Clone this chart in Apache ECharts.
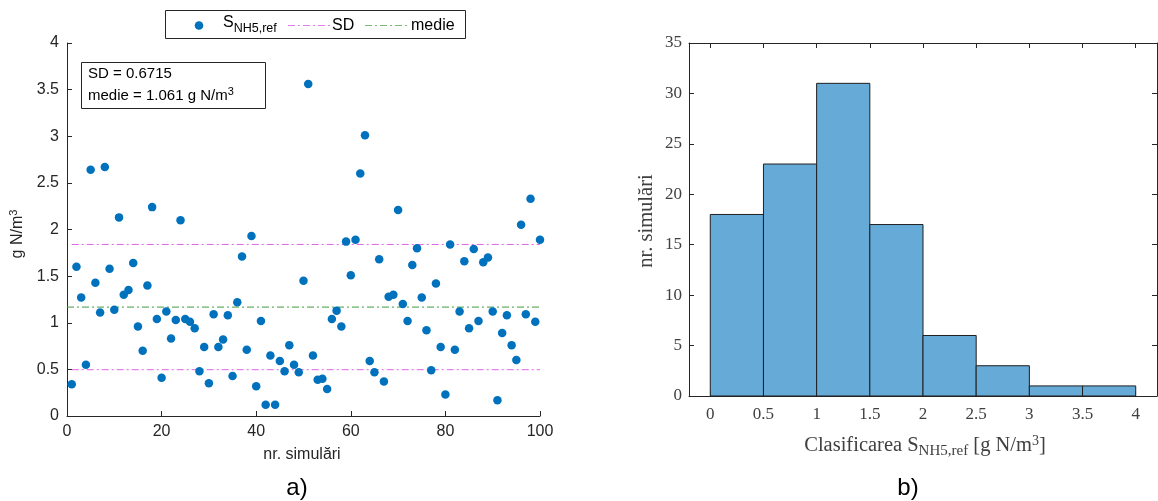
<!DOCTYPE html>
<html><head><meta charset="utf-8">
<script src="https://cdn.jsdelivr.net/npm/echarts@6/dist/echarts.min.js"></script>
<style>html,body{margin:0;padding:0;background:#fff}#c{width:1158px;height:501px}</style>
</head><body><div id="c"></div>
<script>
// ---- data ----
const sValues = [
  0.34, 1.60, 1.27, 0.55, 2.64, 1.43, 1.11, 2.67, 1.58, 1.14,
  2.13, 1.30, 1.35, 1.64, 0.96, 0.70, 1.40, 2.24, 1.04, 0.41,
  1.12, 0.83, 1.03, 2.10, 1.04, 1.01, 0.94, 0.48, 0.74, 0.35,
  1.09, 0.74, 0.82, 1.08, 0.43, 1.22, 1.71, 0.71, 1.93, 0.32,
  1.02, 0.12, 0.65, 0.12, 0.59, 0.48, 0.76, 0.55, 0.47, 1.45,
  3.56, 0.65, 0.39, 0.40, 0.29, 1.04, 1.13, 0.96, 1.87, 1.51,
  1.89, 2.60, 3.01, 0.59, 0.47, 1.68, 0.37, 1.28, 1.30, 2.21,
  1.20, 1.02, 1.62, 1.80, 1.27, 0.92, 0.49, 1.42, 0.74, 0.23,
  1.84, 0.71, 1.12, 1.66, 0.94, 1.79, 1.02, 1.65, 1.70, 1.12,
  0.17, 0.89, 1.08, 0.76, 0.60, 2.05, 1.09, 2.33, 1.01, 1.89
];
const meanLineValue = 1.168;
const sdValue = 0.6715;
const meanStart = 0, sdStart = 1, lineEnd = 100;
const binEdges = [0, 0.5, 1, 1.5, 2, 2.5, 3, 3.5, 4];
const binCounts = [18, 23, 31, 17, 6, 3, 1, 1];
const histTicks = [0, 0.5, 1, 1.5, 2, 2.5, 3, 3.5, 4];

// ---- build ----
const scatterData = sValues.map((v, i) => [i + 1, v]);
const sdUpper = [[sdStart, meanLineValue + sdValue], [lineEnd, meanLineValue + sdValue]];
const sdLower = [[sdStart, meanLineValue - sdValue], [lineEnd, meanLineValue - sdValue]];
const meanLine = [[meanStart, meanLineValue], [lineEnd, meanLineValue]];
const histData = binCounts.map((c, i) => [binEdges[i], binEdges[i + 1], c]);

const axisCol = '#262626';
const sans = 'Liberation Sans, Arial, sans-serif';
const serif = 'Liberation Serif, DejaVu Serif, serif';
const magenta = '#E066E6';
const green = '#3F9B3F';
const dashDot = [7, 3, 2, 3];

const chart = echarts.init(document.getElementById('c'));
chart.setOption({
  animation: false,
  backgroundColor: '#fff',
  grid: [
    {left: 67, top: 43, width: 473, height: 373},
    {left: 689, top: 43, width: 468, height: 353}
  ],
  xAxis: [
    {gridIndex: 0, type: 'value', min: 0, max: 100, interval: 20,
     axisLine: {lineStyle: {color: axisCol}}, splitLine: {show: false},
     axisTick: {inside: true, length: 5, lineStyle: {color: axisCol}},
     axisLabel: {fontFamily: sans, fontSize: 16, color: axisCol, margin: 8}},
    {gridIndex: 1, type: 'value', min: -0.2, max: 4.2,
     axisLine: {onZero: false, lineStyle: {color: axisCol}}, splitLine: {show: false},
     axisTick: {inside: true, length: 5, customValues: histTicks, lineStyle: {color: axisCol}},
     axisLabel: {customValues: histTicks, fontFamily: serif, fontSize: 17, color: '#404040', margin: 10}},
    {gridIndex: 1, type: 'value', min: -0.2, max: 4.2, position: 'top',
     axisLine: {onZero: false, lineStyle: {color: axisCol}}, splitLine: {show: false},
     axisTick: {inside: true, length: 5, customValues: histTicks, lineStyle: {color: axisCol}},
     axisLabel: {show: false}}
  ],
  yAxis: [
    {gridIndex: 0, type: 'value', min: 0, max: 4, interval: 0.5,
     axisLine: {show: true, lineStyle: {color: axisCol}}, splitLine: {show: false},
     axisTick: {show: true, inside: true, length: 5, lineStyle: {color: axisCol}},
     axisLabel: {fontFamily: sans, fontSize: 16, color: axisCol, margin: 8}},
    {gridIndex: 1, type: 'value', min: 0, max: 35, interval: 5,
     axisLine: {show: true, onZero: false, lineStyle: {color: axisCol}}, splitLine: {show: false},
     axisTick: {show: true, inside: true, length: 5, lineStyle: {color: axisCol}},
     axisLabel: {fontFamily: serif, fontSize: 17, color: '#404040', margin: 7}},
    {gridIndex: 1, type: 'value', min: 0, max: 35, interval: 5, position: 'right',
     axisLine: {show: true, onZero: false, lineStyle: {color: axisCol}}, splitLine: {show: false},
     axisTick: {show: true, inside: true, length: 5, lineStyle: {color: axisCol}},
     axisLabel: {show: false}}
  ],
  series: [
    {name: 'S', type: 'scatter', xAxisIndex: 0, yAxisIndex: 0, data: scatterData,
     symbolSize: 8.5, itemStyle: {color: '#0072BD', opacity: 1}, z: 5},
    {name: 'SD', type: 'line', xAxisIndex: 0, yAxisIndex: 0, data: sdUpper, symbol: 'none',
     lineStyle: {color: magenta, width: 1, type: dashDot}},
    {name: 'SD', type: 'line', xAxisIndex: 0, yAxisIndex: 0, data: sdLower, symbol: 'none',
     lineStyle: {color: magenta, width: 1, type: dashDot}},
    {name: 'medie', type: 'line', xAxisIndex: 0, yAxisIndex: 0, data: meanLine, symbol: 'none',
     lineStyle: {color: green, width: 1, type: dashDot}},
    {name: 'hist', type: 'custom', xAxisIndex: 1, yAxisIndex: 1, data: histData,
     encode: {x: [0, 1], y: 2},
     renderItem: function (params, api) {
       const p0 = api.coord([api.value(0), 0]);
       const p1 = api.coord([api.value(1), api.value(2)]);
       return {type: 'rect',
         shape: {x: p0[0], y: p1[1], width: p1[0] - p0[0], height: p0[1] - p1[1]},
         style: {fill: '#66AAD7', stroke: '#1f1f1f', lineWidth: 1}};
     }}
  ],
  graphic: [
    // legend
    {type: 'rect', shape: {x: 165.5, y: 10.5, width: 300, height: 28},
     style: {fill: '#fff', stroke: axisCol, lineWidth: 1}, z: 10},
    {type: 'circle', shape: {cx: 199, cy: 25.5, r: 4.3}, style: {fill: '#0072BD'}, z: 11},
    {type: 'text', x: 223, y: 23, z: 11,
     style: {text: '{s|S}{sub|NH5,ref}', verticalAlign: 'middle',
       rich: {s: {fontFamily: sans, fontSize: 16, fill: '#000'},
              sub: {fontFamily: sans, fontSize: 12.5, fill: '#000', padding: [11, 0, 0, 0]}}}},
    {type: 'line', shape: {x1: 288, y1: 25.5, x2: 330, y2: 25.5},
     style: {stroke: '#E27CE8', lineWidth: 1, lineDash: dashDot}, z: 11},
    {type: 'text', x: 332, y: 25.5, z: 11,
     style: {text: 'SD', fontFamily: sans, fontSize: 16, fill: '#000', verticalAlign: 'middle'}},
    {type: 'line', shape: {x1: 365, y1: 25.5, x2: 408, y2: 25.5},
     style: {stroke: '#7DBB7D', lineWidth: 1, lineDash: dashDot}, z: 11},
    {type: 'text', x: 411, y: 25.5, z: 11,
     style: {text: 'medie', fontFamily: sans, fontSize: 16, fill: '#000', verticalAlign: 'middle'}},
    // annotation
    {type: 'rect', shape: {x: 81.5, y: 62.5, width: 184, height: 46},
     style: {fill: '#fff', stroke: axisCol, lineWidth: 1}, z: 10},
    {type: 'text', left: 88, top: 66, z: 11,
     style: {text: 'SD = 0.6715', fontFamily: sans, fontSize: 15, fill: '#000'}},
    {type: 'text', left: 88, top: 86, z: 11,
     style: {text: '{t|medie = 1.061 g N/m}{sup|3}', fontFamily: sans, fontSize: 15, fill: '#000',
       rich: {t: {fontFamily: sans, fontSize: 15, fill: '#000'},
              sup: {fontFamily: sans, fontSize: 11, fill: '#000', padding: [0, 0, 8, 0]}}}},
    // axis titles & panel labels
    {type: 'text', x: 18, y: 234, rotation: Math.PI / 2, z: 11,
     style: {text: '{t|g N/m}{sup|3}', fontFamily: sans, fontSize: 16, fill: axisCol,
       align: 'center', verticalAlign: 'middle',
       rich: {t: {fontFamily: sans, fontSize: 16, fill: axisCol},
              sup: {fontFamily: sans, fontSize: 11, fill: axisCol, padding: [0, 0, 8, 0]}}}},
    {type: 'text', x: 302, y: 455, z: 11,
     style: {text: 'nr. simulări', fontFamily: sans, fontSize: 16, fill: axisCol,
       align: 'center', verticalAlign: 'middle'}},
    {type: 'text', x: 297, y: 488, z: 11,
     style: {text: 'a)', fontFamily: sans, fontSize: 24, fill: '#000',
       align: 'center', verticalAlign: 'middle'}},
    {type: 'text', x: 647, y: 221, rotation: Math.PI / 2, z: 11,
     style: {text: 'nr. simulări', fontFamily: serif, fontSize: 20.5, fill: '#404040',
       align: 'center', verticalAlign: 'middle'}},
    {type: 'text', x: 925, y: 446, z: 11,
     style: {text: '{t|Clasificarea S}{sub|NH5,ref}{t| [g N/m}{sup|3}{t|]}', fontFamily: serif, fontSize: 20.5, fill: '#404040',
       align: 'center', verticalAlign: 'middle',
       rich: {t: {fontFamily: serif, fontSize: 20.5, fill: '#404040'},
              sub: {fontFamily: serif, fontSize: 15, fill: '#404040', padding: [11, 0, 0, 0]},
              sup: {fontFamily: serif, fontSize: 14, fill: '#404040', padding: [0, 0, 10, 0]}}}},
    {type: 'text', x: 908, y: 488, z: 11,
     style: {text: 'b)', fontFamily: sans, fontSize: 24, fill: '#000',
       align: 'center', verticalAlign: 'middle'}}
  ]
});
</script></body></html>
